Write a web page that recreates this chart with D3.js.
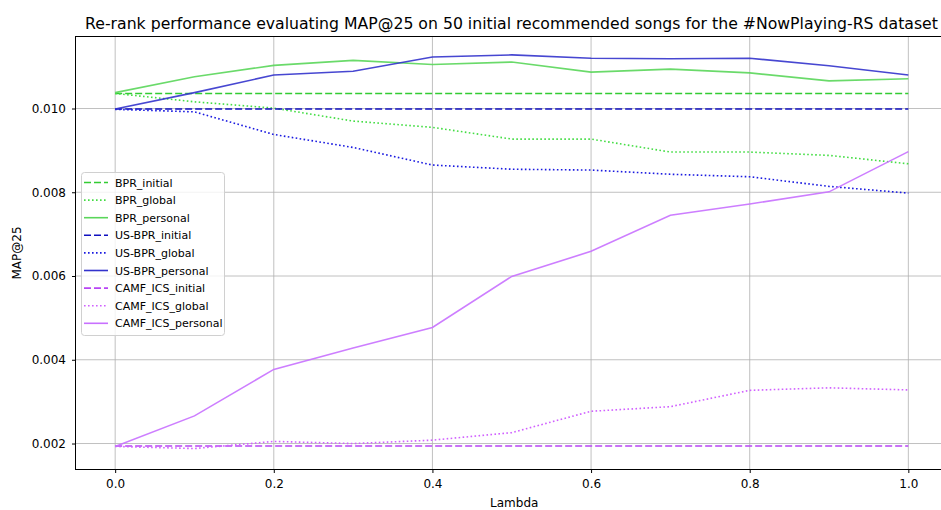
<!DOCTYPE html>
<html>
<head>
<meta charset="utf-8">
<script src="https://cdn.jsdelivr.net/npm/d3@7"></script>
<style>
  body { margin: 0; background: #fff; }
  svg { display: block; font-family: "DejaVu Sans", sans-serif; }
</style>
</head>
<body>
<svg id="chart" width="941" height="510"></svg>
<script>
const lambdas = [0, 0.1, 0.2, 0.3, 0.4, 0.5, 0.6, 0.7, 0.8, 0.9, 1.0];
const xTicks = [0.0, 0.2, 0.4, 0.6, 0.8, 1.0];
const yTicks = [0.002, 0.004, 0.006, 0.008, 0.010];

const bprInitial = [0.01036,0.01036,0.01036,0.01036,0.01036,0.01036,0.01036,0.01036,0.01036,0.01036,0.01036];
const bprGlobal = [0.01036,0.01016,0.01001,0.00970,0.00955,0.00927,0.00927,0.00896,0.00896,0.00888,0.00868];
const bprPersonal = [0.01038,0.01076,0.01103,0.01115,0.01105,0.01111,0.01087,0.01094,0.01085,0.01066,0.01071];
const usbprInitial = [0.00999,0.00999,0.00999,0.00999,0.00999,0.00999,0.00999,0.00999,0.00999,0.00999,0.00999];
const usbprGlobal = [0.00998,0.00992,0.00938,0.00907,0.00865,0.00855,0.00853,0.00843,0.00837,0.00814,0.00798];
const usbprPersonal = [0.00999,0.01038,0.01080,0.01089,0.01123,0.01128,0.01120,0.01119,0.01120,0.01102,0.01080];
const camfInitial = [0.00194,0.00194,0.00194,0.00194,0.00194,0.00194,0.00194,0.00194,0.00194,0.00194,0.00194];
const camfGlobal = [0.00193,0.00188,0.00205,0.00200,0.00208,0.00226,0.00277,0.00288,0.00327,0.00333,0.00328];
const camfPersonal = [0.00193,0.00266,0.00377,0.00428,0.00477,0.00599,0.00659,0.00745,0.00772,0.00801,0.00897];

const seriesNames = ["BPR_initial","BPR_global","BPR_personal","US-BPR_initial","US-BPR_global","US-BPR_personal","CAMF_ICS_initial","CAMF_ICS_global","CAMF_ICS_personal"];
const seriesValues = [bprInitial,bprGlobal,bprPersonal,usbprInitial,usbprGlobal,usbprPersonal,camfInitial,camfGlobal,camfPersonal];
const seriesColors = ["#33cc33","#44dd44","#5ad65a","#1010c0","#1a1ae0","#3333cc","#b844f5","#d060ff","#c870ff"];
const seriesStyles = ["dashed","dotted","solid","dashed","dotted","solid","dashed","dotted","solid"];

const svg = d3.select("#chart");
const mLeft = 75.5, mRight = 948, mTop = 36.5, mBottom = 469.5;

const x = d3.scaleLinear().domain([-0.05, 1.05]).range([mLeft, mRight]);
const y = d3.scaleLinear().domain([0.0013795, 0.0117196]).range([mBottom, mTop]);

// grid
const grid = svg.append("g");
grid.selectAll("line.gx").data(xTicks).join("line")
  .attr("x1", d => x(d)).attr("x2", d => x(d)).attr("y1", mTop).attr("y2", mBottom)
  .attr("stroke", "#b0b0b0").attr("stroke-width", 0.8);
grid.selectAll("line.gy").data(yTicks).join("line")
  .attr("y1", d => y(d)).attr("y2", d => y(d)).attr("x1", mLeft).attr("x2", mRight)
  .attr("stroke", "#b0b0b0").attr("stroke-width", 0.8);

// lines
const dash = { dashed: "7,3", dotted: "1.6,2.4", solid: null };
const line = d3.line().x((d, i) => x(lambdas[i])).y(d => y(d));
seriesValues.forEach((vals, k) => {
  svg.append("path").datum(vals)
    .attr("d", line).attr("fill", "none")
    .attr("stroke", seriesColors[k]).attr("stroke-width", 1.6)
    .attr("stroke-opacity", seriesStyles[k] === "solid" ? 0.9 : 1)
    .attr("stroke-dasharray", dash[seriesStyles[k]]);
});

// spines
svg.append("rect").attr("x", mLeft).attr("y", mTop).attr("width", mRight - mLeft).attr("height", mBottom - mTop)
  .attr("fill", "none").attr("stroke", "#000").attr("stroke-width", 1);

// axes
const xAxis = d3.axisBottom(x).tickValues(xTicks).tickFormat(d3.format(".1f")).tickSize(3.5).tickPadding(6);
const gx = svg.append("g").attr("transform", `translate(0,${mBottom})`).call(xAxis);
const yAxis = d3.axisLeft(y).tickValues(yTicks).tickFormat(d3.format(".3f")).tickSize(3.5).tickPadding(6);
const gy = svg.append("g").attr("transform", `translate(${mLeft},0)`).call(yAxis);
[gx, gy].forEach(g => {
  g.select(".domain").remove();
  g.selectAll("text").attr("font-size", 12).attr("fill", "#000").attr("font-family", "DejaVu Sans");
  g.selectAll("line").attr("stroke", "#000");
});

// labels
svg.append("text").attr("x", (mLeft + 941) / 2 + 6).attr("y", 507).attr("text-anchor", "middle")
  .attr("font-size", 12).text("Lambda");
svg.append("text").attr("transform", `translate(21,${(mTop + mBottom) / 2}) rotate(-90)`)
  .attr("text-anchor", "middle").attr("font-size", 12).text("MAP@25");
svg.append("text").attr("x", 511.5).attr("y", 29).attr("text-anchor", "middle")
  .attr("font-size", 15.7).text("Re-rank performance evaluating MAP@25 on 50 initial recommended songs for the #NowPlaying-RS dataset");

// legend
const lg = svg.append("g");
lg.append("rect").attr("x", 81.5).attr("y", 172.5).attr("width", 143).attr("height", 163).attr("rx", 3)
  .attr("fill", "#fff").attr("fill-opacity", 0.8).attr("stroke", "#d0d0d0").attr("stroke-width", 1);
seriesNames.forEach((n, k) => {
  const yy = 182.5 + k * 17.6;
  lg.append("line").attr("x1", 84).attr("x2", 108).attr("y1", yy).attr("y2", yy)
    .attr("stroke", seriesColors[k]).attr("stroke-width", 1.6)
    .attr("stroke-dasharray", dash[seriesStyles[k]]);
  lg.append("text").attr("x", 115).attr("y", yy + 4).attr("font-size", 11).text(n);
});
</script>
</body>
</html>
